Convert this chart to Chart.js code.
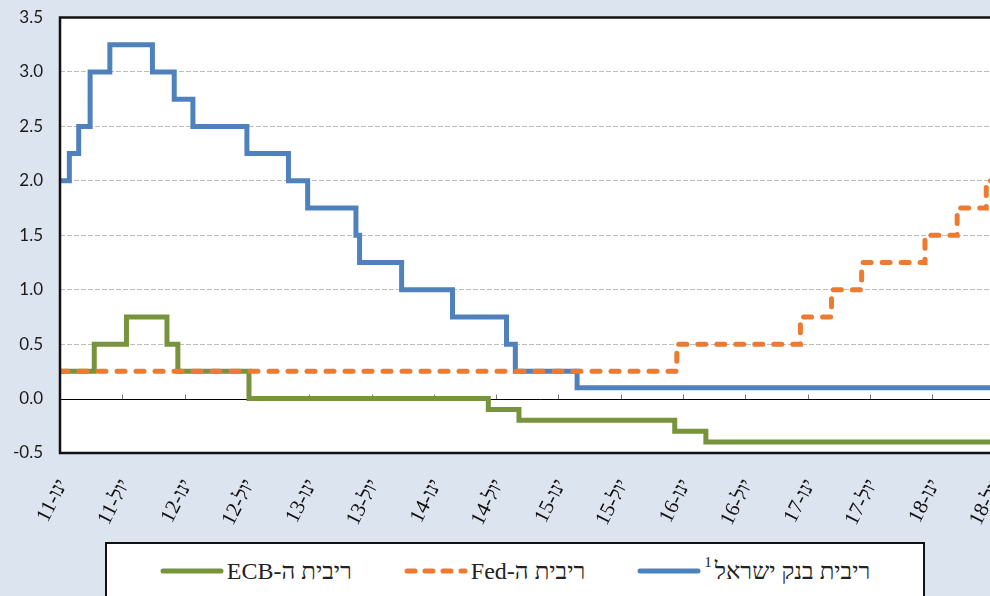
<!DOCTYPE html>
<html lang="he">
<head>
<meta charset="utf-8">
<title>ריבית בנק ישראל, Fed, ECB</title>
<script src="https://cdn.jsdelivr.net/npm/chart.js@4.4.1/dist/chart.umd.min.js"></script>
<style>
    html, body { margin: 0; padding: 0; }
    body { width: 990px; height: 596px; overflow: hidden; background: #dce4f0; position: relative; }
    #wrap { position: absolute; left: 0; top: 0; width: 1031px; height: 596px; }
    #legend {
        position: absolute; left: 105px; top: 542px; width: 820px; height: 80px;
        box-sizing: border-box; background: #fff; border: 2px solid #111;
    }
    #legend .row {
        direction: rtl; display: flex; justify-content: center; align-items: center;
        height: 54px; gap: 52px;
        font-family: "Liberation Serif", "DejaVu Serif", serif; font-size: 24px; color: #222;
    }
    #legend .item { display: flex; align-items: center; gap: 3px; }
    #legend sup { font-size: 15px; position: relative; top: -3px; margin-right: 3px; }
</style>
</head>
<body>
<div id="wrap"><canvas id="ratesChart"></canvas></div>
<div id="legend"><div class="row"></div></div>
<script>
// x = months since Jan 2011 (when the rate changed), y = rate in %
const boiMonths = [0, 0.9, 1.8, 2.9, 4.8, 8.9, 11.0, 12.8, 18.0, 22.0, 23.85, 28.5, 28.85, 32.9, 37.8, 43.0, 43.85, 49.8, 92.5];
const boiRates  = [2.0, 2.25, 2.5, 3.0, 3.25, 3.0, 2.75, 2.5, 2.25, 2.0, 1.75, 1.5, 1.25, 1.0, 0.75, 0.5, 0.25, 0.1, 0.1];

const fedMonths = [0, 59.4, 71.3, 74.3, 77.2, 83.3, 86.4, 89.2, 92.5];
const fedRates  = [0.25, 0.5, 0.75, 1.0, 1.25, 1.5, 1.75, 2.0, 2.0];

const ecbMonths = [0, 3.3, 6.4, 10.3, 11.35, 18.2, 41.25, 44.2, 59.2, 62.2, 92.5];
const ecbRates  = [0.25, 0.5, 0.75, 0.5, 0.25, 0, -0.1, -0.2, -0.3, -0.4, -0.4];

const seriesNames = ['ריבית בנק ישראל', 'ריבית ה-Fed', 'ריבית ה-ECB'];
const seriesColors = ['#4f81bd', '#ec7a30', '#77933c'];

// one label every 6 months
const xTickLabels = ['ינו-11', 'יול-11', 'ינו-12', 'יול-12', 'ינו-13', 'יול-13', 'ינו-14', 'יול-14',
                     'ינו-15', 'יול-15', 'ינו-16', 'יול-16', 'ינו-17', 'יול-17', 'ינו-18', 'יול-18'];

function points(xs, ys) {
    return xs.map((x, i) => ({ x: x, y: ys[i] }));
}

// white plot area, zero line with small ticks, black frame
const plotFrame = {
    id: 'plotFrame',
    beforeDraw(chart) {
        const a = chart.chartArea, ctx = chart.ctx;
        ctx.save();
        ctx.fillStyle = '#fff';
        ctx.fillRect(a.left, a.top, a.right - a.left, a.bottom - a.top);
        ctx.restore();
    },
    beforeDatasetsDraw(chart) {
        const a = chart.chartArea, ctx = chart.ctx;
        const y0 = Math.round(chart.scales.y.getPixelForValue(0)) + 0.5;
        ctx.save();
        ctx.strokeStyle = '#777';
        ctx.lineWidth = 1;
        chart.scales.x.ticks.forEach(t => {
            const px = Math.round(chart.scales.x.getPixelForValue(t.value)) + 0.5;
            if (px <= a.left + 2) return;
            ctx.beginPath();
            ctx.moveTo(px, y0);
            ctx.lineTo(px, y0 - 5);
            ctx.stroke();
        });
        ctx.strokeStyle = '#000';
        ctx.beginPath();
        ctx.moveTo(a.left, y0);
        ctx.lineTo(a.right, y0);
        ctx.stroke();
        ctx.restore();
    },
    afterDatasetsDraw(chart) {
        const a = chart.chartArea, ctx = chart.ctx;
        ctx.save();
        ctx.strokeStyle = '#111';
        ctx.lineWidth = 2.5;
        ctx.strokeRect(a.left, a.top, a.right - a.left, a.bottom - a.top);
        ctx.restore();
    }
};

document.addEventListener('DOMContentLoaded', function() {
    const seriesData = [points(boiMonths, boiRates), points(fedMonths, fedRates), points(ecbMonths, ecbRates)];

    new Chart(document.getElementById('ratesChart'), {
        type: 'line',
        data: {
            datasets: [
                {
                    label: seriesNames[0],
                    data: seriesData[0],
                    borderColor: seriesColors[0],
                    borderWidth: 5,
                    stepped: true,
                    order: 1
                },
                {
                    label: seriesNames[1],
                    data: seriesData[1],
                    borderColor: seriesColors[1],
                    borderWidth: 5,
                    borderDash: [8, 11],
                    borderCapStyle: 'round',
                    stepped: true,
                    order: 0
                },
                {
                    label: seriesNames[2],
                    data: seriesData[2],
                    borderColor: seriesColors[2],
                    borderWidth: 5,
                    stepped: true,
                    order: 2
                }
            ]
        },
        options: {
            responsive: true,
            maintainAspectRatio: false,
            animation: false,
            layout: { padding: { top: 17.5, right: 0, bottom: 0, left: 0 } },
            elements: { point: { radius: 0 }, line: { tension: 0 } },
            plugins: {
                legend: { display: false },
                tooltip: { enabled: false }
            },
            scales: {
                x: {
                    type: 'linear',
                    min: 0,
                    max: 92.5,
                    grid: { display: false },
                    border: { display: false },
                    afterFit: scale => { scale.height = 143; },
                    ticks: {
                        stepSize: 6,
                        includeBounds: false,
                        autoSkip: false,
                        minRotation: 63,
                        maxRotation: 63,
                        padding: 14,
                        labelOffset: 3,
                        color: '#111',
                        font: { family: '"Liberation Serif", serif', size: 21 },
                        callback: v => xTickLabels[v / 6] || ''
                    }
                },
                y: {
                    min: -0.5,
                    max: 3.5,
                    afterFit: scale => {
                        scale.width = 60;
                        scale.paddingTop = 0;
                        scale.paddingBottom = 0;
                    },
                    grid: {
                        drawTicks: false,
                        color: c => (c.tick.value > -0.5 && c.tick.value < 3.5 && c.tick.value !== 0) ? '#bdbdbd' : 'rgba(0,0,0,0)',
                        lineWidth: 1
                    },
                    border: { display: false, dash: [5, 2] },
                    ticks: {
                        stepSize: 0.5,
                        padding: 17,
                        color: '#1a1a1a',
                        font: { family: 'Lato, sans-serif', size: 17 },
                        callback: v => v.toFixed(1)
                    }
                }
            }
        },
        plugins: [plotFrame]
    });

    // legend box under the chart, right to left like the original
    const row = document.querySelector('#legend .row');
    seriesNames.forEach((name, i) => {
        const item = document.createElement('div');
        item.className = 'item';
        const text = document.createElement('span');
        text.textContent = name;
        if (i === 0) {
            const sup = document.createElement('sup');
            sup.textContent = '1';
            text.appendChild(sup);
        }
        const dash = i === 1 ? ' stroke-dasharray="8 10"' : '';
        const sample = document.createElement('span');
        sample.innerHTML = '<svg width="64" height="10"><line x1="3" y1="5" x2="61" y2="5" stroke="' +
            seriesColors[i] + '" stroke-width="5" stroke-linecap="round"' + dash + '/></svg>';
        sample.style.display = 'inline-flex';
        item.appendChild(text);
        item.appendChild(sample);
        row.appendChild(item);
    });
});
</script>
</body>
</html>
